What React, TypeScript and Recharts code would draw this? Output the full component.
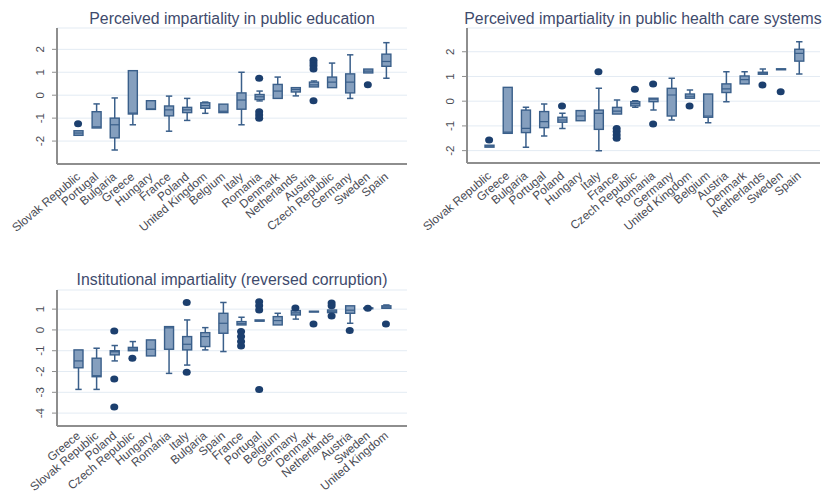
import React from 'react'
import { ComposedChart, Bar, Scatter, XAxis, YAxis, CartesianGrid } from 'recharts'

// Perceived impartiality in public education
const eduCountries = ['Slovak Republic', 'Portugal', 'Bulgaria', 'Greece', 'Hungary', 'France', 'Poland', 'United Kingdom', 'Belgium', 'Italy', 'Romania', 'Denmark', 'Netherlands', 'Austria', 'Czech Republic', 'Germany', 'Sweden', 'Spain']
const eduLow = [-1.75, -1.43, -2.39, -1.29, -0.62, -1.57, -1.1, -0.79, -0.76, -1.29, -0.25, -0.14, -0.03, 0.36, 0.33, -0.14, 0.97, 0.74]
const eduQ1 = [-1.75, -1.43, -1.86, -0.82, -0.62, -0.9, -0.76, -0.57, -0.76, -0.61, -0.19, -0.14, 0.14, 0.36, 0.33, 0.1, 0.97, 1.26]
const eduMedian = [-1.65, -1.38, -1.29, -0.78, -0.6, -0.64, -0.64, -0.45, -0.7, -0.21, -0.07, 0.18, 0.25, 0.45, 0.57, 0.57, 1.05, 1.47]
const eduQ3 = [-1.55, -0.72, -1.0, 1.07, -0.24, -0.47, -0.53, -0.33, -0.39, 0.1, 0.03, 0.47, 0.33, 0.57, 0.79, 0.93, 1.14, 1.79]
const eduHigh = [-1.55, -0.38, -0.12, 1.07, -0.24, -0.04, -0.14, -0.3, -0.39, 1.0, 0.18, 0.79, 0.33, 0.62, 1.4, 1.76, 1.14, 2.29]
const eduOutliers: Record<string, number[]> = {
  'Slovak Republic': [-1.25],
  Romania: [0.74, -0.72, -0.86, -1.0],
  Austria: [1.52, 1.4, 1.28, 1.14, -0.24],
  Sweden: [0.46],
}

// Perceived impartiality in public health care systems
const healthCountries = ['Slovak Republic', 'Greece', 'Bulgaria', 'Portugal', 'Poland', 'Hungary', 'Italy', 'France', 'Czech Republic', 'Romania', 'Germany', 'United Kingdom', 'Belgium', 'Austria', 'Denmark', 'Netherlands', 'Sweden', 'Spain']
const healthLow = [-1.86, -1.3, -1.86, -1.41, -1.1, -0.79, -2.0, -0.52, -0.25, -0.36, -0.76, 0.12, -0.87, -0.02, 0.7, 1.09, 1.27, 1.1]
const healthQ1 = [-1.86, -1.3, -1.27, -1.07, -0.85, -0.79, -1.14, -0.52, -0.19, -0.02, -0.6, 0.12, -0.65, 0.35, 0.7, 1.09, 1.27, 1.62]
const healthMedian = [-1.82, -1.25, -1.1, -0.83, -0.76, -0.6, -0.49, -0.4, -0.1, 0.08, 0.25, 0.2, -0.6, 0.5, 0.87, 1.13, 1.29, 1.93]
const healthQ3 = [-1.78, 0.56, -0.36, -0.42, -0.65, -0.38, -0.36, -0.25, -0.02, 0.12, 0.52, 0.29, 0.29, 0.7, 1.02, 1.17, 1.31, 2.1]
const healthHigh = [-1.78, 0.56, -0.25, -0.11, -0.49, -0.38, 0.52, 0.05, 0.02, 0.12, 0.93, 0.45, 0.29, 1.19, 1.19, 1.3, 1.31, 2.4]
const healthOutliers: Record<string, number[]> = {
  'Slovak Republic': [-1.57],
  Poland: [-0.19],
  Italy: [1.19],
  France: [-1.1, -1.23, -1.37, -1.5],
  'Czech Republic': [0.48],
  Romania: [0.7, -0.92],
  'United Kingdom': [-0.19],
  Netherlands: [0.65],
  Sweden: [0.38],
}

// Institutional impartiality (reversed corruption)
const instCountries = ['Greece', 'Slovak Republic', 'Poland', 'Czech Republic', 'Hungary', 'Romania', 'Italy', 'Bulgaria', 'Spain', 'France', 'Portugal', 'Belgium', 'Germany', 'Denmark', 'Netherlands', 'Austria', 'Sweden', 'United Kingdom']
const instLow = [-2.86, -2.86, -1.49, -1.0, -1.25, -2.09, -1.69, -0.96, -1.04, 0.24, 0.42, 0.24, 0.52, 0.86, 0.83, 0.32, 1.02, 1.04]
const instQ1 = [-1.82, -2.25, -1.2, -1.0, -1.25, -0.93, -0.96, -0.8, -0.16, 0.24, 0.42, 0.24, 0.72, 0.86, 0.83, 0.8, 1.02, 1.04]
const instMedian = [-1.49, -2.2, -1.05, -0.92, -0.93, 0.1, -0.69, -0.32, 0.32, 0.3, 0.45, 0.45, 0.82, 0.88, 0.9, 0.95, 1.04, 1.1]
const instQ3 = [-0.96, -1.36, -1.0, -0.84, -0.48, 0.16, -0.32, -0.13, 0.8, 0.4, 0.48, 0.64, 0.93, 0.9, 0.96, 1.16, 1.06, 1.16]
const instHigh = [-0.96, -0.88, -0.75, -0.56, -0.48, 0.16, 0.48, 0.11, 1.32, 0.61, 0.48, 0.8, 0.93, 0.9, 0.96, 1.16, 1.06, 1.2]
const instOutliers: Record<string, number[]> = {
  Poland: [-0.05, -2.36, -3.71],
  'Czech Republic': [-1.36],
  Italy: [1.32, -2.04],
  France: [-0.08, -0.32, -0.56, -0.77],
  Portugal: [1.36, 1.16, 0.96, -2.86],
  Germany: [1.05],
  Denmark: [0.29],
  Netherlands: [1.3, 1.16, 0.67],
  Austria: [-0.03],
  Sweden: [1.04],
  'United Kingdom': [0.29],
}

const OUTLIER_KEYS = ['o1', 'o2', 'o3', 'o4', 'o5']
const FONT = '"Liberation Sans", Arial, sans-serif'
const LINE = '#3a5f8a'
const FILL = '#859fbe'
const DOT = '#1c3f6e'
const AXIS = '#8e8e8e'

function buildRows(names: string[], lo: number[], q1: number[], med: number[], q3: number[], hi: number[], outliers: Record<string, number[]>) {
  return names.map((name, i) => {
    const row: any = { name, range: [lo[i], hi[i]], lo: lo[i], q1: q1[i], med: med[i], q3: q3[i], hi: hi[i] }
    ;(outliers[name] || []).forEach((v, k) => {
      row[OUTLIER_KEYS[k]] = v
    })
    return row
  })
}

const eduRows = buildRows(eduCountries, eduLow, eduQ1, eduMedian, eduQ3, eduHigh, eduOutliers)
const healthRows = buildRows(healthCountries, healthLow, healthQ1, healthMedian, healthQ3, healthHigh, healthOutliers)
const instRows = buildRows(instCountries, instLow, instQ1, instMedian, instQ3, instHigh, instOutliers)

function BoxShape(props: any) {
  const { x, y, width, height, payload } = props
  if (!payload || !Number.isFinite(y)) return <g />
  const { lo, q1, med, q3, hi } = payload
  const top = Math.min(y, y + height)
  const h = Math.abs(height)
  // the bar spans lo..hi on the y scale, the rest is placed on that same linear scale
  const py = (v: number) => (hi === lo ? top : top + ((hi - v) / (hi - lo)) * h)
  const cx = x + width / 2
  const cap = 3.2
  const yq1 = py(q1)
  const yq3 = py(q3)
  return (
    <g>
      {hi > q3 && <line x1={cx} x2={cx} y1={top} y2={yq3} stroke={LINE} strokeWidth={1.5} />}
      {hi > q3 && <line x1={cx - cap} x2={cx + cap} y1={top} y2={top} stroke={LINE} strokeWidth={1.5} />}
      {lo < q1 && <line x1={cx} x2={cx} y1={yq1} y2={top + h} stroke={LINE} strokeWidth={1.5} />}
      {lo < q1 && <line x1={cx - cap} x2={cx + cap} y1={top + h} y2={top + h} stroke={LINE} strokeWidth={1.5} />}
      <rect x={x} y={yq3} width={width} height={Math.max(yq1 - yq3, 0.5)} fill={FILL} stroke={LINE} strokeWidth={1.4} />
      <line x1={x} x2={x + width} y1={py(med)} y2={py(med)} stroke={LINE} strokeWidth={1.2} />
    </g>
  )
}

function OutlierDot(props: any) {
  const { cx, cy } = props
  if (!Number.isFinite(cx) || !Number.isFinite(cy)) return <g />
  return <ellipse cx={cx} cy={cy} rx={4} ry={3.5} fill={DOT} />
}

function CountryTick(props: any) {
  const { x, y, payload, dy } = props
  const ax = x + 3
  const ay = y + dy
  return (
    <text x={ax} y={ay} transform={`rotate(-40, ${ax}, ${ay})`} textAnchor="end" fontSize={11.8} fill="#4a4c55" fontFamily={FONT}>
      {payload.value}
    </text>
  )
}

function ValueTick(props: any) {
  const { x, y, payload } = props
  const tx = x - 6
  return (
    <text x={tx} y={y} transform={`rotate(-90, ${tx}, ${y})`} textAnchor="middle" fontSize={11.5} fill="#4a4c55" fontFamily={FONT}>
      {payload.value}
    </text>
  )
}

function BoxPanel({ rows, domain, ticks, width, height, margin, xHeight, pad, labelDy }: any) {
  return (
    <ComposedChart width={width} height={height} data={rows} margin={margin}>
      <CartesianGrid vertical={false} stroke="#e3ebf3" />
      <XAxis
        dataKey="name"
        type="category"
        interval={0}
        height={xHeight}
        padding={pad}
        tick={(p: any) => <CountryTick {...p} dy={labelDy} />}
        tickLine={false}
        axisLine={{ stroke: AXIS, strokeWidth: 2 }}
      />
      <YAxis
        type="number"
        domain={domain}
        ticks={ticks}
        interval={0}
        allowDataOverflow
        width={30}
        tickSize={5}
        tick={ValueTick}
        tickLine={{ stroke: AXIS }}
        axisLine={{ stroke: AXIS, strokeWidth: 2 }}
      />
      <Bar dataKey="range" barSize={9} shape={(p: any) => <BoxShape {...p} />} isAnimationActive={false} />
      {OUTLIER_KEYS.map((k) => (
        <Scatter key={k} dataKey={k} shape={(p: any) => <OutlierDot {...p} />} isAnimationActive={false} />
      ))}
    </ComposedChart>
  )
}

function Title({ text, left, top, width }: any) {
  return (
    <div style={{ position: 'absolute', left, top, width, textAlign: 'center', fontFamily: FONT, fontSize: 15.8, lineHeight: '18px', color: '#3e4a6c', whiteSpace: 'nowrap' }}>
      {text}
    </div>
  )
}

export default function App() {
  return (
    <div style={{ position: 'absolute', left: 0, top: 0, width: 823, height: 494, background: '#fff', overflow: 'hidden' }}>
      <div style={{ position: 'absolute', left: 0, top: 0 }}>
        <BoxPanel rows={eduRows} domain={[-3, 2.93]} ticks={[-2, -1, 0, 1, 2]} width={410} height={250} margin={{ top: 28, right: 3, bottom: 6, left: 27 }} xHeight={80} pad={{ left: 12, right: 12 }} labelDy={6} />
      </div>
      <div style={{ position: 'absolute', left: 410, top: 0 }}>
        <BoxPanel rows={healthRows} domain={[-2.5, 2.96]} ticks={[-2, -1, 0, 1, 2]} width={413} height={250} margin={{ top: 28, right: 3, bottom: 7, left: 27 }} xHeight={80} pad={{ left: 13, right: 12 }} labelDy={6} />
      </div>
      <div style={{ position: 'absolute', left: 0, top: 250 }}>
        <BoxPanel rows={instRows} domain={[-4.62, 1.92]} ticks={[-4, -3, -2, -1, 0, 1]} width={410} height={244} margin={{ top: 40, right: 3, bottom: 6, left: 27 }} xHeight={62} pad={{ left: 12, right: 12 }} labelDy={3} />
      </div>
      <Title text="Perceived impartiality in public education" left={32} top={9.5} width={400} />
      <Title text="Perceived impartiality in public health care systems" left={443} top={9.5} width={400} />
      <Title text="Institutional impartiality (reversed corruption)" left={32} top={270.5} width={400} />
    </div>
  )
}
